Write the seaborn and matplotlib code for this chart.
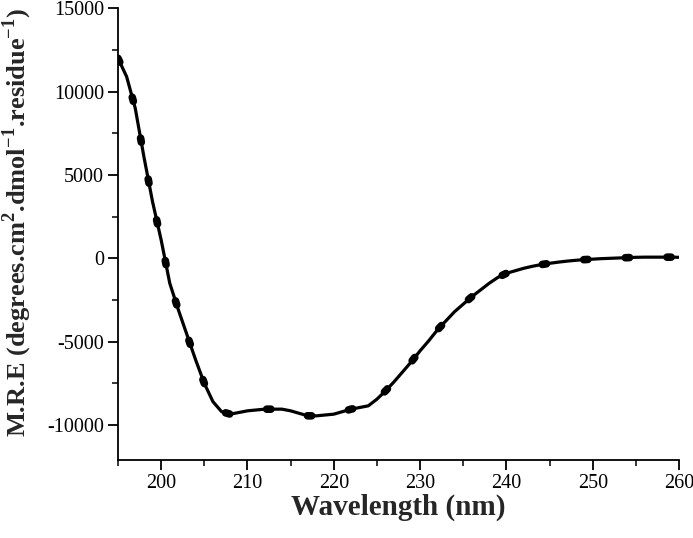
import numpy as np
import pandas as pd
import matplotlib
matplotlib.use("Agg")
import matplotlib.pyplot as plt
import seaborn as sns

wavelength = list(range(195, 261))
mre = [12000, 10900, 9000, 6100, 3400, 1100, -1500, -3100, -4600, -6100,
       -7500, -8600, -9200, -9350, -9250, -9150, -9100, -9050, -9050, -9050,
       -9150, -9300, -9450, -9450, -9400, -9350, -9200, -9050, -8950, -8850,
       -8450, -7950, -7400, -6800, -6200, -5550, -4950, -4300, -3750, -3200,
       -2750, -2300, -1900, -1500, -1150, -900, -750, -600, -480, -380,
       -300, -230, -170, -120, -80, -50, -20, 0, 20, 40,
       60, 70, 70, 70, 70, 60]

x_ticks = [200, 210, 220, 230, 240, 250, 260]
y_ticks = [-10000, -5000, 0, 5000, 10000, 15000]

df = pd.DataFrame({"Wavelength": wavelength, "MRE": mre})

sns.set_style("ticks")
plt.rcParams["font.family"] = ["Liberation Serif", "DejaVu Serif"]
plt.rcParams["mathtext.fontset"] = "custom"
plt.rcParams["mathtext.rm"] = "Liberation Serif"
plt.rcParams["mathtext.bf"] = "Liberation Serif:bold"
plt.rcParams["lines.scale_dashes"] = False
plt.rcParams["axes.unicode_minus"] = False

fig = plt.figure(figsize=(6.93, 5.38), dpi=100)
ax = fig.add_axes([118 / 693, 1 - 460 / 538, (679 - 118) / 693, (460 - 8.3) / 538])

sns.lineplot(data=df, x="Wavelength", y="MRE", ax=ax, color="black", lw=2.3)
sns.lineplot(data=df, x="Wavelength", y="MRE", ax=ax, color="black", lw=5.5)
ln = ax.lines[-1]
ln.set_dashes((3, 27))
ln.set_dash_capstyle("round")

ax.set_xticks(x_ticks)
ax.set_yticks(y_ticks)
ax.set_xticks(np.arange(195, 261, 5), minor=True)
ax.set_yticks(np.arange(-12500, 15001, 2500), minor=True)
ax.set_xlim(195, 260)
ax.set_ylim(-12100, 15000)
ax.tick_params(axis="both", which="major", direction="out", length=7, width=1.3,
               labelsize=14.5, colors="black", pad=3)
ax.tick_params(axis="both", which="minor", direction="out", length=4, width=1.3)
for s in ["left", "bottom"]:
    ax.spines[s].set_linewidth(1.3)
    ax.spines[s].set_color("black")
sns.despine(ax=ax)

ax.set_xlabel("Wavelength (nm)", fontsize=21, fontweight="bold")
ax.xaxis.set_label_coords(0.5, -0.075)
ax.set_ylabel(r"M.R.E (degrees.cm$^{\mathbf{2}}$.dmol$^{\mathbf{-1}}$.residue$^{\mathbf{-1}}$)",
              fontsize=19, fontweight="bold")
ax.yaxis.set_label_coords(-0.15, 0.525)

fig.savefig("out.png", dpi=100)
